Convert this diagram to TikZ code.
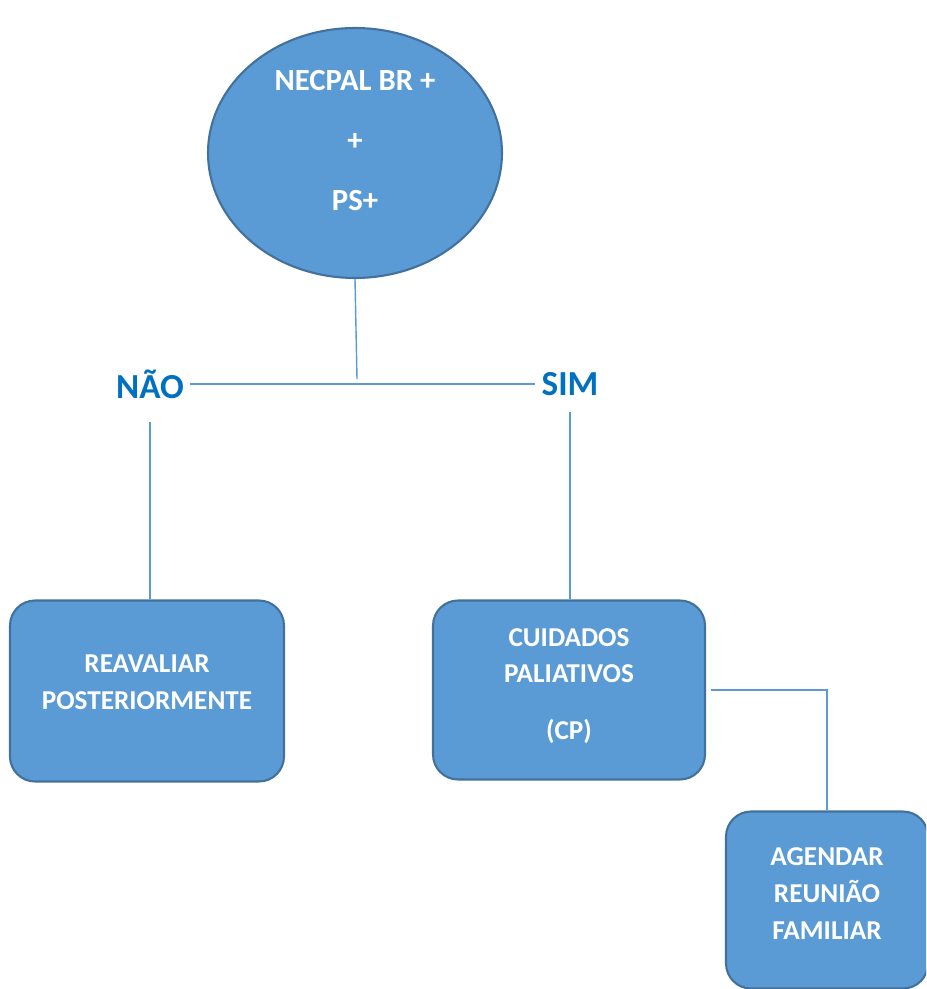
\documentclass[tikz,border=0pt]{standalone}
\usepackage{fontspec}
\setmainfont{Carlito}
\usetikzlibrary{shapes.geometric, positioning}

\definecolor{boxfill}{HTML}{5B9BD5}
\definecolor{boxline}{HTML}{41719C}
\definecolor{wordblue}{HTML}{0070C0}
\definecolor{linkblue}{HTML}{5B9BD5}

\tikzset{
  topcircle/.style={ellipse, draw=boxline, fill=boxfill, line width=1.2pt,
    inner sep=0pt, minimum width=5.88cm, minimum height=5cm, text=white,
    align=center, font=\bfseries\fontsize{17.5}{34}\selectfont},
  roundbox/.style={rectangle, rounded corners=0.5cm, draw=boxline, fill=boxfill,
    line width=1.2pt, inner sep=0pt, text=white, align=center,
    font=\bfseries\fontsize{15.5}{21}\selectfont},
  answer/.style={text=wordblue, font=\bfseries\fontsize{20}{22}\selectfont},
  link/.style={draw=linkblue, line width=0.8pt}
}

\begin{document}
\begin{tikzpicture}[x=0.02cm, y=-0.02cm]
\useasboundingbox (0,0) rectangle (926,989);
\clip (0,0) rectangle (926,989);

% Decision circle
\node[topcircle] (necpal) at (355,153) {NECPAL BR +\\+\\PS+\\[-0.7cm]};

% Answers
\node[answer] (nao) at (150,384) {NÃO};
\node[answer] (sim) at (570,384) {SIM};
\coordinate (split) at (357,379);

% Outcome boxes
\node[roundbox, minimum width=5.48cm, minimum height=3.62cm] (reav) at (147,691)
  {REAVALIAR\\POSTERIORMENTE\\[-0.4cm]};
\node[roundbox, minimum width=5.44cm, minimum height=3.58cm] (cp) at (569,690)
  {CUIDADOS\\PALIATIVOS\\[0.4cm](CP)\\[-0.5cm]};
\node[roundbox, minimum width=4.04cm, minimum height=3.54cm] (agenda) at (827,900)
  {AGENDAR\\REUNIÃO\\FAMILIAR\\[-0.47cm]};

% Connectors
\draw[link] (necpal.south) -- (split);
\draw[link] (nao.east) -- (sim.west);
\draw[link, shorten <=0.35cm] (nao.south) -- (nao.south |- reav.north);
\draw[link, shorten <=0.2cm] (sim.south) -- (sim.south |- cp.north);
\draw[link, shorten <=0.1cm] (cp.east) -| (agenda.north);
\end{tikzpicture}
\end{document}
